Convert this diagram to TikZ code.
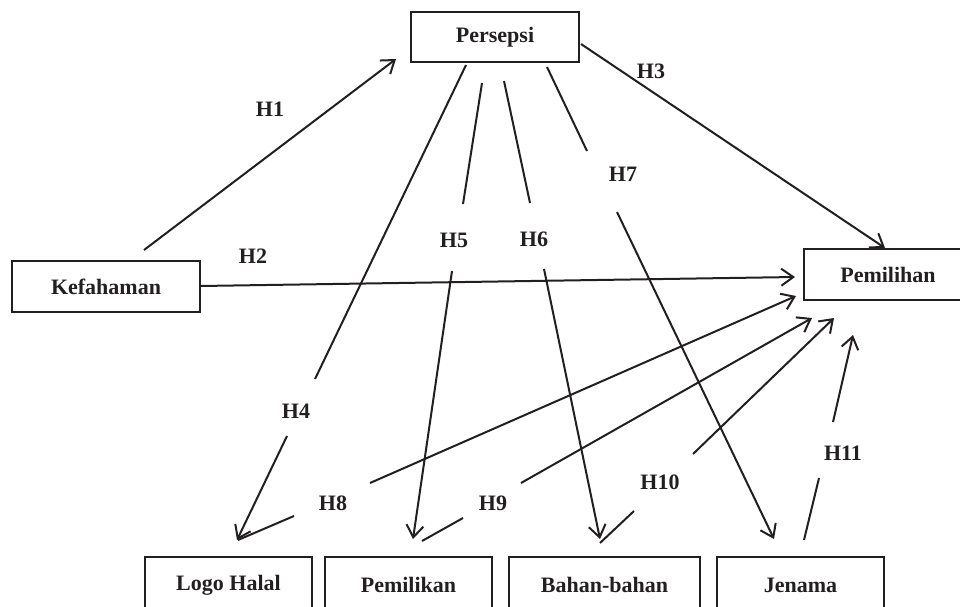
\documentclass[tikz,border=0pt]{standalone}
\usepackage{fontspec}
\setmainfont{Liberation Serif}
\usetikzlibrary{arrows.meta}
\definecolor{ink}{RGB}{35,31,32}
\begin{document}
\begin{tikzpicture}[x=1pt,y=-1pt,
  box/.style={draw=ink, line width=2pt, minimum height=50pt, inner sep=0pt,
    font=\fontsize{22}{26}\selectfont\bfseries, text=ink},
  hlab/.style={font=\fontsize{22}{26}\selectfont\bfseries, text=ink, inner sep=0pt},
  conn/.style={draw=ink, line width=2pt},
  arr/.style={conn, -{Straight Barb[length=12pt,width=17pt]}}
]
\useasboundingbox (0,0) rectangle (960,606);
\clip (0,0) rectangle (960,606);

% boxes
\node[box, minimum width=168pt] (P) at (495,37) {Persepsi};
\node[box, minimum width=188pt, minimum height=51pt] (K) at (106,286.5) {Kefahaman};
\node[box, minimum width=168pt, minimum height=51pt] (M) at (888,274.5) {Pemilihan};
\node[box, minimum width=167pt, minimum height=56pt] (LH) at (228.5,585) {Logo Halal};
\node[box, minimum width=167pt, minimum height=56pt] (PK) at (408.5,585) {Pemilikan};
\node[box, minimum width=191pt, minimum height=56pt] (BB) at (604.5,585) {Bahan-bahan};
\node[box, minimum width=167pt, minimum height=56pt] (J) at (800.5,585) {Jenama};

% labels
\node[hlab] (H1) at (270,109) {H1};
\node[hlab] (H2) at (253,256) {H2};
\node[hlab] (H3) at (651,71) {H3};
\node[hlab] (H4) at (296,411) {H4};
\node[hlab] (H5) at (454,240) {H5};
\node[hlab] (H6) at (534,239) {H6};
\node[hlab] (H7) at (623,174) {H7};
\node[hlab] (H8) at (333,503) {H8};
\node[hlab] (H9) at (493,503) {H9};
\node[hlab] (H10) at (660,482) {H10};
\node[hlab] (H11) at (843,453) {H11};

% connector end points
\coordinate (a1) at (144,250);  \coordinate (b1) at (396,59);
\coordinate (a2) at (200,286);  \coordinate (b2) at (795,277);
\coordinate (a3) at (581,44);   \coordinate (b3) at (885,248);
\coordinate (a4) at (466,65);   \coordinate (m4) at (315,379);
\coordinate (n4) at (287,436);  \coordinate (b4) at (237,540);
\coordinate (a5) at (482,83);   \coordinate (m5) at (463,204);
\coordinate (n5) at (452,271);  \coordinate (b5) at (413,539);
\coordinate (a6) at (504,81);   \coordinate (m6) at (530,203);
\coordinate (n6) at (544,269);  \coordinate (b6) at (600,539);
\coordinate (a7) at (547,67);   \coordinate (m7) at (587,151);
\coordinate (n7) at (617,212);  \coordinate (b7) at (774,539);
\coordinate (a8) at (238,540);  \coordinate (m8) at (294,516);
\coordinate (n8) at (370,483);  \coordinate (b8) at (796,296);
\coordinate (a9) at (422,541);  \coordinate (m9) at (463,518);
\coordinate (n9) at (521,483);  \coordinate (b9) at (812,318);
\coordinate (a10) at (600,543); \coordinate (m10) at (634,511);
\coordinate (n10) at (693,454); \coordinate (b10) at (834,318);
\coordinate (a11) at (804,540); \coordinate (m11) at (819,478);
\coordinate (n11) at (833,422); \coordinate (b11) at (853,335);

% connectors
\draw[arr] (a1) -- (b1);
\draw[arr] (a2) -- (b2);
\draw[arr] (a3) -- (b3);
\draw[conn] (a4) -- (m4); \draw[arr] (n4) -- (b4);
\draw[conn] (a5) -- (m5); \draw[arr] (n5) -- (b5);
\draw[conn] (a6) -- (m6); \draw[arr] (n6) -- (b6);
\draw[conn] (a7) -- (m7); \draw[arr] (n7) -- (b7);
\draw[conn] (a8) -- (m8); \draw[arr] (n8) -- (b8);
\draw[conn] (a9) -- (m9); \draw[arr] (n9) -- (b9);
\draw[conn] (a10) -- (m10); \draw[arr] (n10) -- (b10);
\draw[conn] (a11) -- (m11); \draw[arr] (n11) -- (b11);
\end{tikzpicture}
\end{document}
